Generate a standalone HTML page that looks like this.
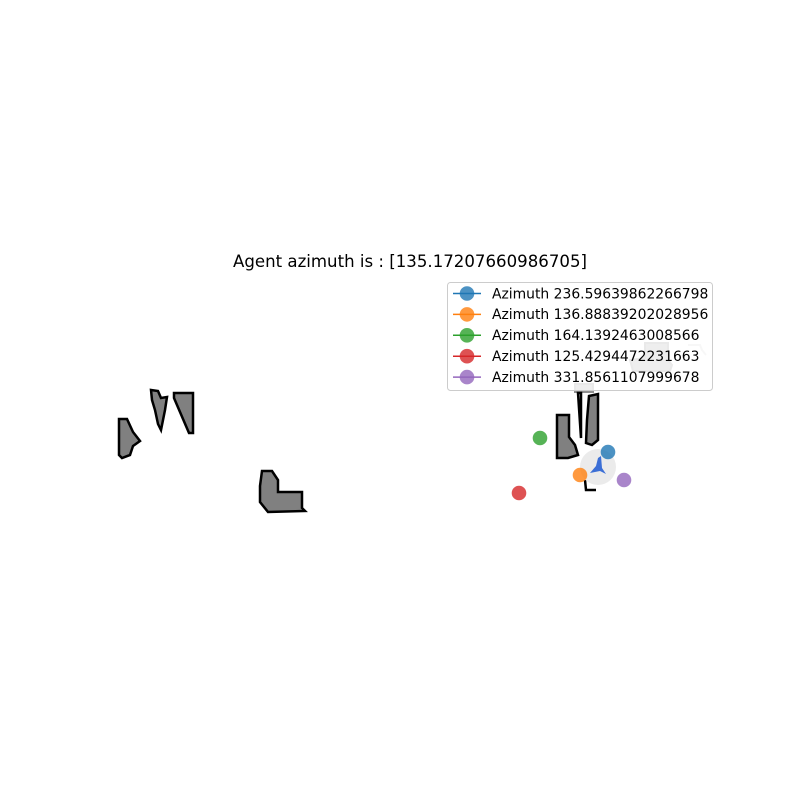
<!DOCTYPE html>
<html><head><meta charset="utf-8"><style>
body{margin:0;background:#fff}
svg{display:block;font-family:"DejaVu Sans","Liberation Sans",sans-serif}
</style></head><body>
<svg id="c" width="800" height="800" viewBox="0 0 800 800">
<rect width="800" height="800" fill="#fff"/>
<text x="410" y="267" font-size="16.6" text-anchor="middle">Agent azimuth is : [135.17207660986705]</text>
<g fill="#a8a8a8" stroke="#909090" stroke-width="2">
<polygon points="645,343 668,343 668,360 672,365 670,371 633,371 630,360 645,358"/>
<polyline points="688,345 700,345 702,350 706,355" fill="none" stroke="#d8d8d8"/>
<polygon points="575,384 593,384 593,392 575,392"/>
</g>
<g fill="#808080" stroke="#000" stroke-width="2.5" stroke-linejoin="miter">
<polygon points="119,419 127,419 133,432 140,441 133,446 130,455 122,458 119,455"/>
<polygon points="151,390 158,391 161,398 167,397 165,410 161,430 158,424 155,410 152,400"/>
<polygon points="174,393 193,393 193,433 189,433 180,412 174,398"/>
<polygon points="262,471 272,471 278,480 278,492 302,492 302,508 305,511 268,512 260,502 260,486"/>
<polygon points="557,415 569,415 569,437 575,445 578,455 568,458 557,458"/>
<polygon points="578,393 581,393 581,438" fill="none"/>
<polygon points="589,396 598,394 598,440 592,445 586,443 587,420"/>
<polyline points="585,480 586,490 596,490" fill="none"/>
</g>
<circle cx="598" cy="467" r="18" fill="#ebebeb"/>
<polygon points="598,458 601,456 602,468 606,474 600,471 590,473 596,466" fill="#3c6fd6"/>
<g id="pts"></g>
<g>
<rect x="447.5" y="282.5" width="265" height="108" rx="3" fill="#fff" fill-opacity="0.8" stroke="#ccc"/>
<g id="leg"></g>
</g>
</svg>
<script>
const labels=["236.59639862266798","136.88839202028956","164.1392463008566","125.4294472231663","331.8561107999678"];
const xs=[608,580,540,519,624];
const ys=[452,475,438,493,480];
const colors=["#1f77b4","#ff7f0e","#2ca02c","#d62728","#9467bd"];
const ns="http://www.w3.org/2000/svg";
const pts=document.getElementById('pts'),leg=document.getElementById('leg');
labels.forEach((l,i)=>{
 const c=document.createElementNS(ns,'circle');
 c.setAttribute('cx',xs[i]);c.setAttribute('cy',ys[i]);c.setAttribute('r',7.3);
 c.setAttribute('fill',colors[i]);c.setAttribute('fill-opacity',0.8);
 
 
 pts.appendChild(c);
 const y=293.5+i*20.9;
 const g=document.createElementNS(ns,'g');
 
 
 const ln=document.createElementNS(ns,'line');
 ln.setAttribute('x1',453);ln.setAttribute('x2',481);ln.setAttribute('y1',y);ln.setAttribute('y2',y);
 ln.setAttribute('stroke',colors[i]);ln.setAttribute('stroke-width',1.5);
 g.appendChild(ln);
 const m=document.createElementNS(ns,'circle');
 m.setAttribute('cx',467);m.setAttribute('cy',y);m.setAttribute('r',7.3);
 m.setAttribute('fill',colors[i]);m.setAttribute('fill-opacity',0.8);
 g.appendChild(m);
 const t=document.createElementNS(ns,'text');
 t.setAttribute('x',492);t.setAttribute('y',y+4.8);t.setAttribute('font-size',13.9);
 t.textContent='Azimuth '+l;
 g.appendChild(t);
 leg.appendChild(g);
});
</script>
</body></html>
